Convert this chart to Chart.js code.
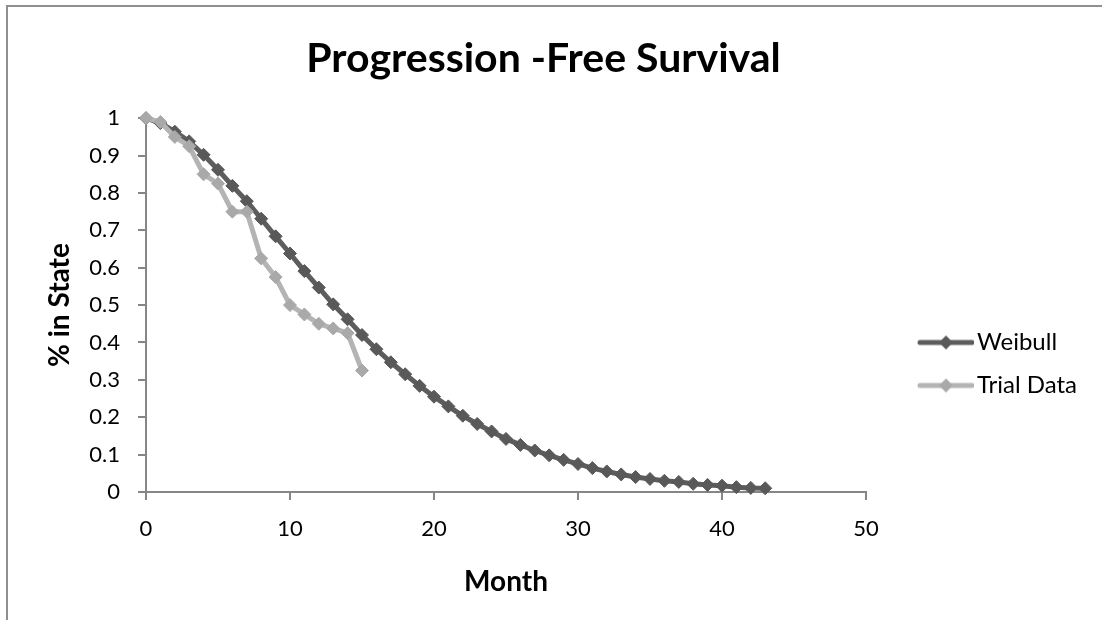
<!DOCTYPE html>
<html>
<head>
<meta charset="utf-8">
<script src="https://cdn.jsdelivr.net/npm/chart.js@4.4.1/dist/chart.umd.min.js"></script>
<style>
  html, body { margin: 0; padding: 0; background: #fff; overflow: hidden; }
  canvas { display: block; }
</style>
</head>
<body>
<canvas id="chart" width="1102" height="620"></canvas>
<script>
// Data
const weibullMonths = [0, 1, 2, 3, 4, 5, 6, 7, 8, 9, 10, 11, 12, 13, 14, 15, 16, 17, 18, 19, 20, 21,
                       22, 23, 24, 25, 26, 27, 28, 29, 30, 31, 32, 33, 34, 35, 36, 37, 38, 39, 40, 41, 42, 43];
const weibullValues = [1.0, 0.987, 0.964, 0.938, 0.902, 0.862, 0.819, 0.778, 0.731, 0.684, 0.638,
                       0.591, 0.547, 0.502, 0.462, 0.42, 0.382, 0.347, 0.315, 0.284, 0.255, 0.229,
                       0.204, 0.182, 0.162, 0.142, 0.126, 0.111, 0.098, 0.086, 0.075, 0.064, 0.055,
                       0.047, 0.04, 0.035, 0.03, 0.027, 0.022, 0.019, 0.017, 0.013, 0.011, 0.01];

const trialMonths = [0, 1, 2, 3, 4, 5, 6, 7, 8, 9, 10, 11, 12, 13, 14, 15];
const trialValues = [1.0, 0.99, 0.95, 0.925, 0.85, 0.825, 0.75, 0.75, 0.625, 0.575, 0.5,
                     0.475, 0.45, 0.4375, 0.425, 0.325];

const seriesNames = ["Weibull", "Trial Data"];
const xTicks = { min: 0, max: 50, step: 10 };
const yTicks = { min: 0, max: 1, step: 0.1 };

const FONT = "Lato, 'Open Sans', sans-serif";
const AXIS = "#868686";

// legend icon: line with a diamond in the middle
function legendIcon(lineColor, markColor) {
    const c = document.createElement("canvas");
    c.width = 98;
    c.height = 18;
    const g = c.getContext("2d");
    g.strokeStyle = lineColor;
    g.lineWidth = 5;
    g.lineCap = "round";
    g.beginPath();
    g.moveTo(44, 9);
    g.lineTo(96, 9);
    g.stroke();
    g.fillStyle = markColor;
    g.beginPath();
    g.moveTo(70, 2);
    g.lineTo(77, 9);
    g.lineTo(70, 16);
    g.lineTo(63, 9);
    g.closePath();
    g.fill();
    return c;
}

// white background plus the chart frame (only top and left edges show)
const framePlugin = {
    id: "frame",
    beforeDraw(chart) {
        const ctx = chart.ctx;
        ctx.save();
        ctx.fillStyle = "#fff";
        ctx.fillRect(0, 0, chart.width, chart.height);
        ctx.strokeStyle = "#8f8f8f";
        ctx.lineWidth = 2;
        ctx.beginPath();
        ctx.moveTo(7, chart.height);
        ctx.lineTo(7, 6);
        ctx.lineTo(chart.width, 6);
        ctx.stroke();
        ctx.restore();
    }
};

const toPoints = (xs, ys) => xs.map((x, i) => ({ x: x, y: ys[i] }));

new Chart(document.getElementById("chart"), {
    type: "line",
    data: {
        datasets: [
            {
                label: seriesNames[0],
                data: toPoints(weibullMonths, weibullValues),
                borderColor: "#5d5d5d",
                backgroundColor: "#595959",
                pointBackgroundColor: "#595959",
                pointBorderColor: "#595959",
                borderWidth: 5,
                pointStyle: "rectRot",
                pointRadius: 6.5,
                pointBorderWidth: 1,
                tension: 0,
                clip: false,
                order: 1
            },
            {
                label: seriesNames[1],
                data: toPoints(trialMonths, trialValues),
                borderColor: "#b4b4b4",
                backgroundColor: "#a9a9a9",
                pointBackgroundColor: "#a9a9a9",
                pointBorderColor: "#a9a9a9",
                borderWidth: 5,
                pointStyle: "rectRot",
                pointRadius: 6.5,
                pointBorderWidth: 1,
                tension: 0,
                clip: false,
                order: 0
            }
        ]
    },
    options: {
        responsive: false,
        animation: false,
        layout: { padding: { left: 0, right: 15, top: 0, bottom: 14 } },
        plugins: {
            tooltip: { enabled: false },
            title: {
                display: true,
                text: "Progression -Free Survival",
                color: "#000",
                font: { family: FONT, size: 41, weight: "bold" },
                padding: { top: 34, bottom: 35 }
            },
            legend: {
                position: "right",
                // empty title only pushes the items down to where the reference has them
                title: { display: true, text: " ", font: { size: 10 }, padding: { top: 110, bottom: 0 } },
                labels: {
                    usePointStyle: true,
                    pointStyleWidth: 80,
                    padding: 19,
                    color: "#000",
                    font: { family: FONT, size: 24 },
                    generateLabels: chart => chart.data.datasets.map((ds, i) => ({
                        text: ds.label,
                        datasetIndex: i,
                        pointStyle: legendIcon(ds.borderColor, ds.pointBackgroundColor),
                        fillStyle: "transparent",
                        strokeStyle: "transparent",
                        lineWidth: 0,
                        fontColor: "#000",
                        hidden: false
                    }))
                }
            }
        },
        scales: {
            x: {
                type: "linear",
                min: xTicks.min,
                max: xTicks.max,
                afterFit: s => { s.height = 114; },
                border: { color: AXIS, width: 2 },
                grid: { drawOnChartArea: false, color: AXIS, lineWidth: 2, tickLength: 8 },
                ticks: { stepSize: xTicks.step, color: "#000", padding: 16,
                         font: { family: FONT, size: 22 } },
                title: { display: true, text: "Month", color: "#000",
                         font: { family: FONT, size: 28, weight: "bold" },
                         padding: { top: 4, bottom: 7 } }
            },
            y: {
                min: yTicks.min,
                max: yTicks.max,
                afterFit: s => { s.width = 146; },
                border: { color: AXIS, width: 2 },
                grid: { drawOnChartArea: false, color: AXIS, lineWidth: 2, tickLength: 8 },
                ticks: { stepSize: yTicks.step, color: "#000", padding: 18,
                         font: { family: FONT, size: 22 },
                         callback: v => String(Number(v.toFixed(2))) },
                title: { display: true, text: "% in State", color: "#000",
                         font: { family: FONT, size: 28, weight: "bold" },
                         padding: { top: 43, bottom: 4 } }
            }
        }
    },
    plugins: [framePlugin]
});
</script>
</body>
</html>
